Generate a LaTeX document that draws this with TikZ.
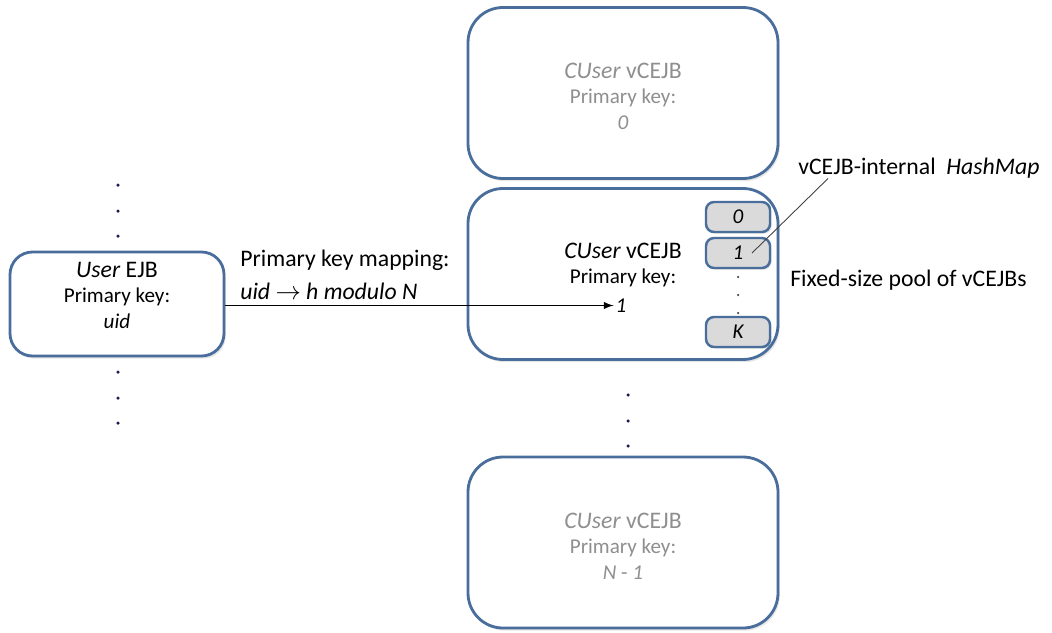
\documentclass[tikz,border=0pt]{standalone}
\usepackage{fontspec}
\setmainfont{Carlito}
\usepackage{tikz}
\usetikzlibrary{arrows, shadows, positioning}
\usepackage{xcolor}
\definecolor{boxblue}{HTML}{4A6E9C}
\definecolor{fadetext}{HTML}{8F8F8F}
\definecolor{dotnavy}{HTML}{1C1C4C}
\definecolor{slotgrey}{HTML}{DADADA}
\newcommand{\titlesize}{\fontsize{13.5}{16}\selectfont}
\newcommand{\keysize}{\fontsize{12}{14.5}\selectfont}

\tikzset{
	beanbox/.style={draw=boxblue, line width=1.6pt, rounded corners=0.7cm, fill=white,
		minimum width=6.2cm, minimum height=3.42cm,
		drop shadow={opacity=0.2, shadow xshift=1pt, shadow yshift=-1.5pt}},
	userbox/.style={beanbox, rounded corners=0.45cm, minimum width=4.28cm, minimum height=2.08cm},
	slotbox/.style={draw=boxblue, line width=1.4pt, rounded corners=0.16cm, fill=slotgrey,
		minimum width=1.28cm, minimum height=0.6cm, inner sep=0pt, font=\keysize\itshape,
		drop shadow={opacity=0.2, shadow xshift=1pt, shadow yshift=-1pt}},
	beantext/.style={align=center, font=\keysize},
	fadedtext/.style={beantext, text=fadetext},
	note/.style={font=\titlesize, inner sep=0pt}
}

\begin{document}
\begin{tikzpicture}
	\useasboundingbox (0,0) rectangle (21.04,-12.64);
	
	% pool of vCEJBs
	\node[beanbox] (top) at (12.46,-1.86) {};
	\node[beanbox] (mid) at (12.46,-5.48) {};
	\node[beanbox] (bot) at (12.46,-10.85) {};
	\node[userbox] (user) at (2.34,-6.08) {};
	
	\node[fadedtext] (toptxt) at (12.46,-1.92) {{\titlesize\textit{CUser} vCEJB}\\Primary key:\\\textit{0}};
	\node[fadedtext] (bottxt) at (12.46,-10.92) {{\titlesize\textit{CUser} vCEJB}\\Primary key:\\\textit{N} - \textit{1}};
	\node[beantext] (midtxt) at (12.46,-5.3) {{\titlesize\textit{CUser} vCEJB}\\Primary key:};
	\node[beantext, inner sep=1pt] (key1) at (12.42,-6.11) {\textit{1}};
	\node[beantext] (usertxt) at (2.34,-5.9) {{\titlesize\textit{User} EJB}\\Primary key:\\\textit{uid}};
	
	% HashMap slots
	\node[slotbox] (slot0) at (14.76,-4.34) {0};
	\node[slotbox] (slot1) at (14.76,-5.06) {1};
	\node[slotbox] (slotK) at (14.76,-6.64) {K};
	
	% dots
	\foreach \y in {-3.7,-4.22,-4.72,-7.44,-7.96,-8.46}
		\fill[dotnavy] (2.36,\y) circle (0.035);
	\foreach \y in {-7.9,-8.42,-8.92}
		\fill[dotnavy] (12.56,\y) circle (0.035);
	\foreach \y in {-5.54,-5.9,-6.26}
		\fill[black!70] (14.76,\y) circle (0.025);
	
	% labels
	\node[note, anchor=west, align=left] (maplbl) at (4.8,-5.5) {Primary key mapping:\\[3pt]\textit{uid} $\rightarrow$ \textit{h modulo N}};
	\node[note, anchor=west] (hmlbl) at (15.96,-3.36) {vCEJB-internal\hspace{0.45em}\textit{HashMap}};
	\node[note, anchor=west] (poollbl) at (15.8,-5.6) {Fixed-size pool of vCEJBs};
	
	\draw[-latex, line width=0.9pt] (user.east |- key1) -- (key1);
	\draw[black!75, line width=0.5pt] ([xshift=0.6cm]hmlbl.south west) -- ([xshift=0.28cm]slot1.center);
\end{tikzpicture}
\end{document}
